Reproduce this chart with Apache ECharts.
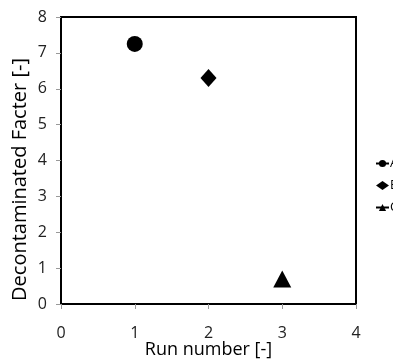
<!DOCTYPE html>
<html><head><meta charset="utf-8">
<script src="https://cdn.jsdelivr.net/npm/echarts@6/dist/echarts.min.js"></script>
<style>html,body{margin:0;padding:0;background:#fff}#c{width:393px;height:359px}</style>
</head><body><div id="c"></div>
<script>
const seriesNames = ['A', 'B', 'C'];
const runNumbers = [1, 2, 3];
const factorValues = [7.25, 6.3, 0.7];
const xTicks = [0, 1, 2, 3, 4];
const yTicks = [0, 1, 2, 3, 4, 5, 6, 7, 8];

const chart = echarts.init(document.getElementById('c'));
const font = 'Open Sans';
const symbols = ['circle', 'diamond', 'triangle'];
const sizes = [16, [16, 18], [18, 17]];
const series = seriesNames.map((n, i) => ({
  name: n,
  type: i === 1 ? 'scatter' : 'line',
  data: [[runNumbers[i], factorValues[i]]],
  symbol: symbols[i],
  symbolSize: sizes[i],
  itemStyle: { color: '#000', opacity: 1 },
  lineStyle: { color: '#000', width: 1.5 }
}));
chart.setOption({
  animation: false,
  grid: { left: 61, right: 37, top: 17, bottom: 55, containLabel: false, outerBoundsMode: 'none', show: true, borderColor: '#000', borderWidth: 2, backgroundColor: 'transparent' },
  legend: {
    orient: 'vertical', left: 370, top: 152, itemGap: 9, itemWidth: 13, itemHeight: 9,
    textStyle: { fontFamily: font, fontSize: 13, color: '#000', padding: [0, 0, 0, -4] },
    data: seriesNames
  },
  xAxis: {
    type: 'value', min: xTicks[0], max: xTicks[xTicks.length - 1], interval: 1,
    name: 'Run number [-]', nameLocation: 'middle', nameGap: 37, nameMoveOverlap: false,
    nameTextStyle: { fontFamily: font, fontSize: 18, color: '#000' },
    axisLine: { show: true, onZero: false, lineStyle: { color: '#000', width: 2 } },
    axisTick: { show: true, length: 5, lineStyle: { color: '#999' } },
    axisLabel: { fontFamily: font, fontSize: 16, color: '#222', margin: 21 },
    splitLine: { show: false }
  },
  yAxis: {
    type: 'value', min: yTicks[0], max: yTicks[yTicks.length - 1], interval: 1,
    name: 'Decontaminated Facter [-]', nameLocation: 'middle', nameGap: 31, nameMoveOverlap: false,
    nameTextStyle: { fontFamily: font, fontSize: 20, color: '#000', padding: [0, 38, 0, 0] },
    axisLine: { show: true, onZero: false, lineStyle: { color: '#000', width: 2 } },
    axisTick: { show: true, length: 5, lineStyle: { color: '#999' } },
    axisLabel: { fontFamily: font, fontSize: 16, color: '#222', margin: 14 },
    splitLine: { show: false }
  },
  series: series
});
</script></body></html>
